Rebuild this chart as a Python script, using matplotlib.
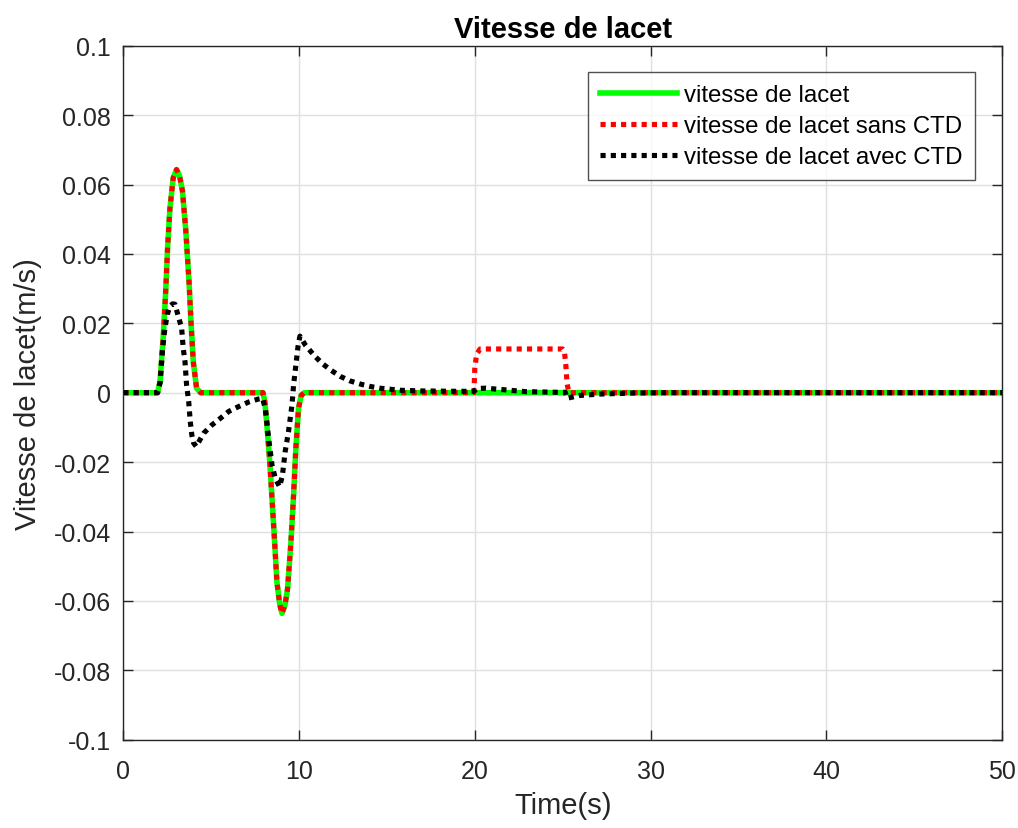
import matplotlib
matplotlib.use("Agg")
import matplotlib.pyplot as plt
import numpy as np

plt.rcParams['font.family'] = ['Liberation Sans', 'DejaVu Sans']

# Reference yaw rate (green) - identical to "sans CTD" except the 20-25 s plateau
t_ref = [0, 1.95, 2.09, 2.28, 2.41, 2.52, 2.65, 2.84, 3.03, 3.2, 3.37, 3.56, 3.74, 3.85,
         3.98, 4.17, 4.4, 7.95, 8.05, 8.17, 8.32, 8.46, 8.61, 8.74, 8.9, 9.03, 9.2, 9.35,
         9.54, 9.69, 9.82, 9.97, 10.12, 10.3, 50]
v_ref = [0, 0, 0.0032, 0.0167, 0.029, 0.0417, 0.053, 0.0619, 0.0643, 0.0625, 0.058, 0.0465,
         0.032, 0.0205, 0.009, 0.0013, 0, 0, -0.0025, -0.0093, -0.0189, -0.0304, -0.0429,
         -0.0545, -0.061, -0.0636, -0.0612, -0.0564, -0.0429, -0.0295, -0.016, -0.0045,
         -0.0008, 0, 0]

# "sans CTD" (red) plateau segment
t_sans_extra = [19.95, 20.0, 20.1, 20.3, 25.0, 25.1, 25.18, 25.25, 25.35]
v_sans_extra = [0, 0.007, 0.011, 0.0126, 0.0126, 0.0119, 0.008, 0.0027, 0]

# "avec CTD" (black)
t_avec = [0, 1.95, 2.1, 2.24, 2.37, 2.5, 2.65, 2.8, 2.94, 3.13, 3.32, 3.41, 3.51, 3.6,
          3.72, 3.81, 3.9, 4.0, 4.15, 4.57, 5.04, 5.52, 6.0, 6.56, 7.13, 7.7, 7.92, 8.08,
          8.27, 8.46, 8.65, 8.89, 9.05, 9.21, 9.4, 9.6, 9.69, 9.82, 9.94, 10.05, 10.35,
          10.83, 11.3, 11.78, 12.35, 12.9, 13.48, 14.05, 14.6, 15.76, 17.0, 18.9, 19.95,
          20.12, 20.6, 21.8, 22.9, 24.8, 25.15, 25.25, 25.97, 27.1, 29.0, 31.0, 50]
v_avec = [0, 0, 0.003, 0.0128, 0.0186, 0.0225, 0.0249, 0.0256, 0.0255, 0.022, 0.0186,
          0.0128, 0.009, 0.0023, -0.0025, -0.0083, -0.0122, -0.0145, -0.0155, -0.0117,
          -0.0093, -0.0074, -0.0054, -0.004, -0.0027, -0.0018, -0.0016, -0.0045, -0.0131,
          -0.0208, -0.0247, -0.0271, -0.024, -0.017, -0.0112, -0.0035, 0.0023, 0.008,
          0.0133, 0.0163, 0.0138, 0.0109, 0.0085, 0.0066, 0.0047, 0.0034, 0.0025, 0.0018,
          0.0013, 0.0007, 0.0005, 0.0004, 0.0004, 0.0012, 0.0013, 0.0008, 0.0003, 0.0001,
          0.0001, -0.0016, -0.0008, -0.0004, -0.0001, 0, 0]

yticks = [-0.1, -0.08, -0.06, -0.04, -0.02, 0, 0.02, 0.04, 0.06, 0.08, 0.1]
ytick_labels = ['-0.1', '-0.08', '-0.06', '-0.04', '-0.02', '0', '0.02', '0.04', '0.06', '0.08', '0.1']
xticks = [0, 10, 20, 30, 40, 50]
xtick_labels = ['0', '10', '20', '30', '40', '50']

# build the "sans CTD" series from reference + plateau
t_sans = []
v_sans = []
for t, v in zip(t_ref, v_ref):
    if t < 19.95 and t != 50:
        t_sans.append(t); v_sans.append(v)
t_sans += t_sans_extra
v_sans += v_sans_extra
t_sans += [50]
v_sans += [0]

fig = plt.figure(figsize=(10.18, 8.29), dpi=100)
ax = fig.add_axes([123.3/1018, 1-740.7/829, (1002-123.3)/1018, (740.7-46.7)/829])

ax.plot(t_ref, v_ref, color='#00ff00', lw=4.0, solid_joinstyle='round', label='vitesse de lacet', zorder=3)
ax.plot(t_sans, v_sans, color='#ff0000', lw=3.7, linestyle=(0, (1, 1)), dash_capstyle='butt',
        label='vitesse de lacet sans CTD', zorder=4)
ax.plot(t_avec, v_avec, color='black', lw=3.7, linestyle=(0, (1, 1)), dash_capstyle='butt',
        label='vitesse de lacet avec CTD', zorder=5)

ax.set_xlim(0, 50)
ax.set_ylim(-0.1, 0.1)
ax.set_xticks(xticks)
ax.set_xticklabels(xtick_labels)
ax.set_yticks(yticks)
ax.set_yticklabels(ytick_labels)
ax.grid(True, color='#dfdfdf', lw=1.0)
ax.set_axisbelow(True)
ax.tick_params(direction='in', length=7, width=1, colors='#262626', labelsize=18,
               top=True, right=True, labelcolor='#262626')
ax.tick_params(axis='x', pad=14)
ax.tick_params(axis='y', pad=9)
for s in ax.spines.values():
    s.set_color('#262626')
    s.set_linewidth(1.0)

ax.set_xlabel('Time(s)', fontsize=21, color='#262626', labelpad=6)
ax.set_ylabel('Vitesse de lacet(m/s)', fontsize=21, color='#262626', labelpad=8)
ax.set_title('Vitesse de lacet', fontsize=21, fontweight='bold', color='black', pad=6)

leg = ax.legend(loc='upper right', bbox_to_anchor=(0.969, 0.962), fontsize=17.3, frameon=True,
                fancybox=False, edgecolor='#262626', handlelength=3.2, handletextpad=0.3,
                borderpad=0.5, labelspacing=0.38, borderaxespad=0)
leg.get_frame().set_linewidth(1.0)

fig.savefig('out.png', dpi=100)
